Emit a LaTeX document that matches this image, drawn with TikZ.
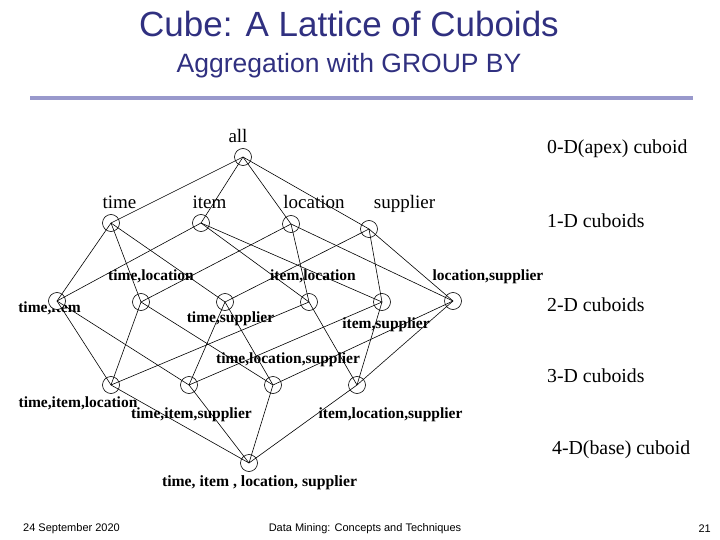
\documentclass[tikz,border=0pt]{standalone}
\usepackage{fontspec}
\setmainfont{Liberation Serif}
\newfontfamily\sansf{Liberation Sans}
\definecolor{titleblue}{RGB}{48,48,128}
\definecolor{rulecol}{RGB}{153,153,204}
\begin{document}
\begin{tikzpicture}[x=1pt,y=-1pt,
  cub/.style={circle,draw,fill=white,minimum size=17pt,inner sep=0pt,line width=0.6pt},
  edge/.style={line width=0.6pt},
  lab/.style={font=\fontsize{15.5}{15.5}\selectfont\bfseries,inner sep=0pt,anchor=base},
  big/.style={font=\fontsize{19}{19}\selectfont,inner sep=0pt,anchor=base},
  side/.style={font=\fontsize{19.8}{19.8}\selectfont,inner sep=0pt,anchor=base west},
  foot/.style={font=\sansf\fontsize{11}{11}\selectfont,inner sep=0pt}]
\useasboundingbox (0,0) rectangle (720,540);
% title
\node[font=\sansf\fontsize{35}{35}\selectfont,text=titleblue,inner sep=0pt,anchor=base] (title) at (349,37) {Cube: A Lattice of Cuboids};
\node[font=\sansf\fontsize{26.5}{26.5}\selectfont,text=titleblue,inner sep=0pt,anchor=base] (subtitle) at (349,73) {Aggregation with GROUP BY};
\fill[rulecol] (30,96) rectangle (693,100);
% level labels
\node[side] (l0) at (547,154) {0-D(apex) cuboid};
\node[side] (l1) at (547,227) {1-D cuboids};
\node[side] (l2) at (547,311) {2-D cuboids};
\node[side] (l3) at (547,382) {3-D cuboids};
\node[side] (l4) at (552,454) {4-D(base) cuboid};
% cuboid labels
\node[big] (tall) at (238,143) {all};
\node[big] (tT) at (119.5,209) {time};
\node[big] (tI) at (209.5,209) {item};
\node[big] (tL) at (314,209) {location};
\node[big] (tS) at (404.5,209) {supplier};
\node[lab] (tTL) at (151,280) {time,location};
\node[lab] (tIL) at (313,280) {item,location};
\node[lab] (tLS) at (488,280) {location,supplier};
\node[lab] (tTI) at (49.5,312) {time,item};
\node[lab] (tTS) at (230.5,322) {time,supplier};
\node[lab] (tIS) at (386,328) {item,supplier};
\node[lab] (tTLS) at (288,363) {time,location,supplier};
\node[lab] (tTIL) at (78,407) {time,item,location};
\node[lab] (tTIS) at (191.5,418) {time,item,supplier};
\node[lab] (tILS) at (390.5,418) {item,location,supplier};
\node[lab,font=\fontsize{15.7}{15.7}\selectfont\bfseries] (tTILS) at (259.5,486) {time, item , location, supplier};
% cuboid circles
\node[cub] (all) at (243,157) {};
\node[cub] (T) at (111,223) {};
\node[cub] (I) at (201,223) {};
\node[cub] (L) at (291,224) {};
\node[cub] (S) at (369,229) {};
\node[cub] (TI) at (57,301) {};
\node[cub] (TL) at (141,302) {};
\node[cub] (TS) at (225,302) {};
\node[cub] (IL) at (309,302) {};
\node[cub] (IS) at (382,302) {};
\node[cub] (LS) at (453,301) {};
\node[cub] (TIL) at (111,385) {};
\node[cub] (TIS) at (189,385) {};
\node[cub] (TLS) at (273,385) {};
\node[cub] (ILS) at (357,385) {};
\node[cub] (TILS) at (249,463) {};
% edges
\foreach \a/\b in {all/T,all/I,all/L,all/S,
  T/TI,T/TL,T/TS,I/TI,I/IL,I/IS,L/TL,L/IL,L/LS,S/TS,S/IS,S/LS,
  TI/TIL,TI/TIS,TL/TIL,TL/TLS,TS/TIS,TS/TLS,IL/TIL,IL/ILS,IS/TIS,IS/ILS,LS/TLS,LS/ILS,
  TIL/TILS,TIS/TILS,TLS/TILS,ILS/TILS}
  \draw[edge] (\a.center) -- (\b.center);
% footer
\node[foot,anchor=west] (date) at (23,529) {24 September 2020};
\node[foot] (course) at (365,529) {Data Mining: Concepts and Techniques};
\node[foot,anchor=east] (page) at (711,529) {21};
\end{tikzpicture}
\end{document}
